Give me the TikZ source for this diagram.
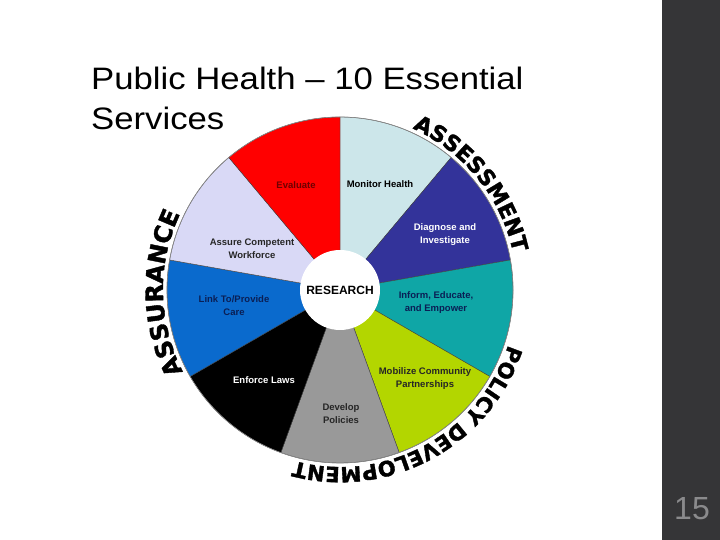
\documentclass[tikz,border=0pt]{standalone}
\usepackage{fontspec}
\setmainfont{Liberation Sans}
\newfontfamily\titlefont{Liberation Sans}[FakeStretch=1.12]
\newfontfamily\arcfont{DejaVu Sans}[BoldFeatures={FakeBold=1.6}]
\usetikzlibrary{decorations.text}

\definecolor{barcol}{HTML}{353537}
\definecolor{numcol}{HTML}{8A8A8C}
\definecolor{monitorcol}{HTML}{CCE6EA}
\definecolor{diagnosecol}{HTML}{33339A}
\definecolor{informcol}{HTML}{0FA6A6}
\definecolor{mobilizecol}{HTML}{B3D600}
\definecolor{developcol}{HTML}{999999}
\definecolor{enforcecol}{HTML}{000000}
\definecolor{linkcol}{HTML}{0A6ACD}
\definecolor{assurecol}{HTML}{D9D9F6}
\definecolor{evalcol}{HTML}{FF0000}
\definecolor{evaltext}{HTML}{6E0000}
\definecolor{navytext}{HTML}{0A1F55}

\newcommand{\arcstyle}{\arcfont\bfseries\fontsize{22}{22}\selectfont}
\newcommand{\arcstylebig}{\arcfont\bfseries\fontsize{24}{24}\selectfont}
\newcommand{\arcstylesmall}{\arcfont\bfseries\fontsize{21}{22}\selectfont}

\tikzset{
	seg/.style={draw=black!75, line width=0.4pt},
	lbl/.style={font=\bfseries\fontsize{9.5}{13}\selectfont, align=center, inner sep=0pt},
	arctext/.style={decorate, decoration={text along path, text={#1}, text align=center}}
}

\begin{document}
\begin{tikzpicture}[x=1pt,y=1pt]
			\useasboundingbox (0,0) rectangle (720,540);
			\fill[barcol] (662,0) rectangle (720,540);
			\node[anchor=base west, inner sep=0pt, font=\titlefont\fontsize{31}{40}\selectfont] (title) at (91,450) {Public Health – 10 Essential};
			\node[anchor=base west, inner sep=0pt, font=\titlefont\fontsize{31}{40}\selectfont] (title2) at (91,410) {Services};
			\node[font=\fontsize{32}{32}\selectfont, text=numcol] (pagenum) at (692,31) {15};
			\coordinate (c) at (340,250);
			% wheel
			\filldraw[seg, fill=monitorcol] (c) -- ++(90:173) arc[start angle=90, end angle=50, radius=173] -- cycle;
			\filldraw[seg, fill=diagnosecol] (c) -- ++(50:173) arc[start angle=50, end angle=10, radius=173] -- cycle;
			\filldraw[seg, fill=informcol] (c) -- ++(10:173) arc[start angle=10, end angle=-30, radius=173] -- cycle;
			\filldraw[seg, fill=mobilizecol] (c) -- ++(-30:173) arc[start angle=-30, end angle=-70, radius=173] -- cycle;
			\filldraw[seg, fill=developcol] (c) -- ++(-70:173) arc[start angle=-70, end angle=-110, radius=173] -- cycle;
			\filldraw[seg, fill=enforcecol] (c) -- ++(-110:173) arc[start angle=-110, end angle=-150, radius=173] -- cycle;
			\filldraw[seg, fill=linkcol] (c) -- ++(-150:173) arc[start angle=-150, end angle=-190, radius=173] -- cycle;
			\filldraw[seg, fill=assurecol] (c) -- ++(170:173) arc[start angle=170, end angle=130, radius=173] -- cycle;
			\filldraw[seg, fill=evalcol] (c) -- ++(130:173) arc[start angle=130, end angle=90, radius=173] -- cycle;
			\draw[black!45, line width=0.6pt] (c) circle[radius=173];
			\node[circle, fill=white, minimum size=80, inner sep=0pt, font=\bfseries\fontsize{12}{12}\selectfont] (research) at (c) {RESEARCH};
			% segment labels
			\node[lbl, text=evaltext] (evaluate) at (296,355) {Evaluate};
			\node[lbl] (monitor) at (380,356) {Monitor Health};
			\node[lbl, text=white] (diagnose) at (445,305) {Diagnose and\\Investigate};
			\node[lbl, text=navytext] (inform) at (436,237) {Inform, Educate,\\and Empower};
			\node[lbl, text=black!85] (mobilize) at (425,161) {Mobilize Community\\Partnerships};
			\node[lbl, text=black!85] (develop) at (341,126) {Develop\\Policies};
			\node[lbl, text=white] (enforce) at (264,160) {Enforce Laws};
			\node[lbl, text=navytext] (link) at (234,234) {Link To/Provide\\Care};
			\node[lbl, text=black!85] (assure) at (252,291) {Assure Competent\\Workforce};
			% curved headings
			\path[arctext={|\arcstyle|ASSESSMENT}, shift={(c)}] (99:177) arc[start angle=99, end angle=-21, radius=177];
			\path[arctext={|\arcstylesmall|POLICY DEVELOPMENT}, shift={(c)}] (18.5:177) arc[start angle=18.5, end angle=-141.5, radius=177];
			\path[arctext={|\arcstylebig|ASSURANCE}, shift={(c)}] (241:177) arc[start angle=241, end angle=121, radius=177];
		\end{tikzpicture}
\end{document}
